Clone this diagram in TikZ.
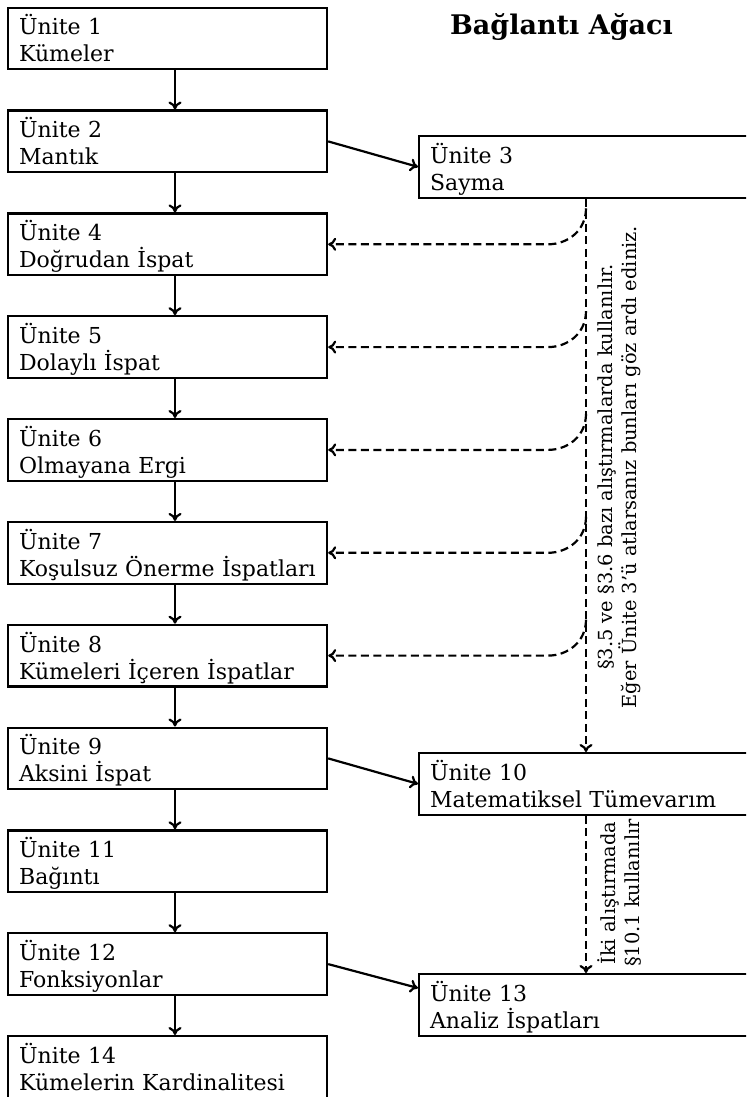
\documentclass[tikz,border=0pt]{standalone}
\usepackage{fontspec}
\setmainfont{DejaVu Serif}
\usetikzlibrary{calc,arrows.meta}
\tikzset{
  unitbox/.style={draw, line width=1.1pt, rectangle, anchor=north west, inner xsep=5.5pt, inner ysep=0pt,
    text width=148.5pt, align=left, text height=13.6pt, text depth=17.2pt,
    font=\fontsize{11}{13.5}\selectfont},
  widebox/.style={unitbox, text width=220pt},
  conn/.style={line width=1.1pt, -{To[length=4pt,width=6.5pt]}},
  dasharrow/.style={conn, dash pattern=on 4pt off 2.25pt},
  sidenote/.style={rotate=90, anchor=north, align=center, inner sep=0pt,
    font=\fontsize{9.7}{12}\selectfont},
  titletext/.style={anchor=base, inner sep=0pt, font=\fontsize{13.5}{16}\selectfont\bfseries}
}
\begin{document}
\begin{tikzpicture}[x=0.5pt, y=-0.5pt]
\useasboundingbox (0,0) rectangle (746,1097);
\clip (0,0) rectangle (746,1097);
% left column
\node[unitbox] (u1)  at (7,6.7)    {Ünite 1\\Kümeler};
\node[unitbox] (u2)  at (7,109.5)  {Ünite 2\\Mantık};
\node[unitbox] (u4)  at (7,212.4)  {Ünite 4\\Doğrudan İspat};
\node[unitbox] (u5)  at (7,315.2)  {Ünite 5\\Dolaylı İspat};
\node[unitbox] (u6)  at (7,418.0)  {Ünite 6\\Olmayana Ergi};
\node[unitbox] (u7)  at (7,520.9)  {Ünite 7\\Koşulsuz Önerme İspatları};
\node[unitbox] (u8)  at (7,623.7)  {Ünite 8\\Kümeleri İçeren İspatlar};
\node[unitbox] (u9)  at (7,726.5)  {Ünite 9\\Aksini İspat};
\node[unitbox] (u11) at (7,829.3)  {Ünite 11\\Bağıntı};
\node[unitbox] (u12) at (7,932.2)  {Ünite 12\\Fonksiyonlar};
\node[unitbox] (u14) at (7,1035.0) {Ünite 14\\Kümelerin Kardinalitesi};
% right column
\node[widebox] (u3)  at (418,135)  {Ünite 3\\Sayma};
\node[widebox] (u10) at (418,752)  {Ünite 10\\Matematiksel Tümevarım};
\node[widebox] (u13) at (418,973)  {Ünite 13\\Analiz İspatları};
% title
\node[titletext] (title) at (561.5,35) {Bağlantı Ağacı};
% helper coordinates
\coordinate (lx) at (175,0);
\coordinate (vx) at (586,0);
\coordinate (t13) at (418,988);
% vertical arrows left column
\draw[conn] (u1.south -| lx) -- (u2.north -| lx);
\draw[conn] (u2.south -| lx) -- (u4.north -| lx);
\draw[conn] (u4.south -| lx) -- (u5.north -| lx);
\draw[conn] (u5.south -| lx) -- (u6.north -| lx);
\draw[conn] (u6.south -| lx) -- (u7.north -| lx);
\draw[conn] (u7.south -| lx) -- (u8.north -| lx);
\draw[conn] (u8.south -| lx) -- (u9.north -| lx);
\draw[conn] (u9.south -| lx) -- (u11.north -| lx);
\draw[conn] (u11.south -| lx) -- (u12.north -| lx);
\draw[conn] (u12.south -| lx) -- (u14.north -| lx);
% diagonal arrows
\draw[conn] (u2.east) -- (u3.west);
\draw[conn] (u9.east) -- (u10.west);
\draw[conn] (u12.east) -- (t13);
% dashed
\draw[dasharrow] (u3.south -| vx) -- (u10.north -| vx);
\draw[dasharrow] (u10.south -| vx) -- (u13.north -| vx);
\foreach \b in {u4,u5,u6,u7,u8}{
  \draw[dasharrow] ($(vx |- \b.east)+(0,-36)$)
     .. controls ($(vx |- \b.east)+(0,-14)$) and ($(vx |- \b.east)+(-18,0)$) ..
     ($(vx |- \b.east)+(-38,0)$) -- (\b.east);
}
% side notes
\node[sidenote] (n3) at (597,467) {§3.5 ve §3.6 bazı alıştırmalarda kullanılır.\\Eğer Ünite 3'ü atlarsanız bunları göz ardı ediniz.};
\node[sidenote] (n10) at (597,893) {İki alıştırmada\\§10.1 kullanılır};
\end{tikzpicture}
\end{document}
